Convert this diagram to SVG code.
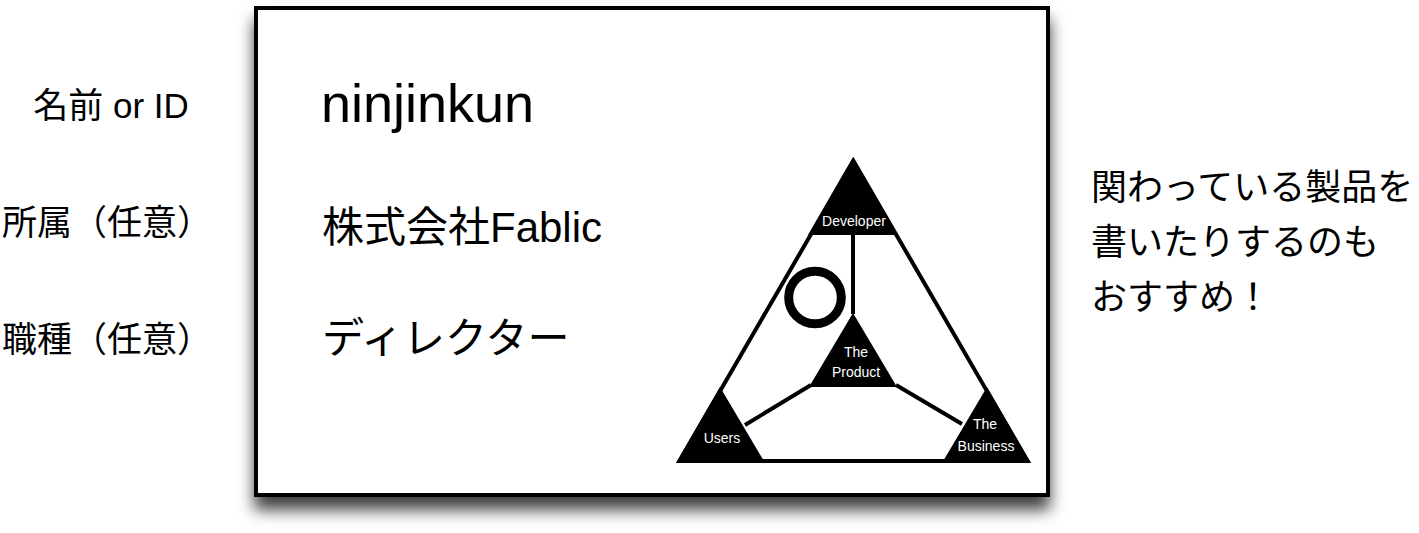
<svg xmlns="http://www.w3.org/2000/svg" width="1419" height="533" viewBox="0 0 1419 533">
  <defs>
    <filter id="shadow" x="-10%" y="-10%" width="120%" height="130%">
      <feDropShadow dx="0" dy="13" stdDeviation="8" flood-color="#000" flood-opacity="0.75"/>
    </filter>
    <style>
      .lbl { font-family: "Liberation Sans", "Noto Sans CJK JP", sans-serif; fill: #000; }
      .side { font-size: 35px; text-anchor: middle; }
      .note { font-size: 36px; }
      .card { font-size: 42px; }
      .tri { fill: #000; }
      .tl { font-family: "Liberation Sans", Arial, sans-serif; font-size: 14px; fill: #fff; text-anchor: middle; }
      .conn { stroke: #000; stroke-width: 4; fill: none; }
    </style>
  </defs>

  <g id="side-labels">
    <text class="lbl side" x="111" y="118">名前 or ID</text>
    <text class="lbl side" x="107" y="235">所属（任意）</text>
    <text class="lbl side" x="107" y="352">職種（任意）</text>
  </g>

  <g id="card">
    <rect x="256" y="8" width="792" height="487" fill="#fff" stroke="#000" stroke-width="4" filter="url(#shadow)"/>
    <text class="lbl" x="321" y="122" font-size="54">ninjinkun</text>
    <text class="lbl card" x="322" y="242">株式会社Fablic</text>
    <text class="lbl card" x="322" y="353">ディレクター</text>
  </g>

  <g id="triangle-frame">
    <polygon points="853.5,161 679.5,461 1027.5,461" fill="#fff" stroke="#000" stroke-width="4" stroke-linejoin="miter"/>
  </g>

  <g id="connectors">
    <line class="conn" x1="853" y1="234" x2="853" y2="314"/>
    <line class="conn" x1="811" y1="385" x2="745" y2="425"/>
    <line class="conn" x1="896" y1="385" x2="962" y2="424"/>
  </g>

  <g id="node-developer">
    <polygon class="tri" points="853,157 808,235 898,235"/>
    <text class="tl" x="854" y="226" font-size="13.5">Developer</text>
  </g>

  <g id="node-product">
    <polygon class="tri" points="853,313 809,387 897,387"/>
    <text class="tl" x="856" y="357">The</text>
    <text class="tl" x="856" y="377">Product</text>
  </g>

  <g id="node-users">
    <polygon class="tri" points="720,387 676,463 765,463"/>
    <text class="tl" x="722" y="443">Users</text>
  </g>

  <g id="node-business">
    <polygon class="tri" points="987,387 942,463 1031,463"/>
    <text class="tl" x="985" y="429">The</text>
    <text class="tl" x="986" y="451">Business</text>
  </g>

  <g id="circle-mark">
    <circle cx="815" cy="297.5" r="26.3" fill="none" stroke="#000" stroke-width="9"/>
  </g>

  <g id="note">
    <text class="lbl note" x="1091" y="200">関わっている製品を</text>
    <text class="lbl note" x="1091" y="255">書いたりするのも</text>
    <text class="lbl note" x="1091" y="310">おすすめ！</text>
  </g>
</svg>
